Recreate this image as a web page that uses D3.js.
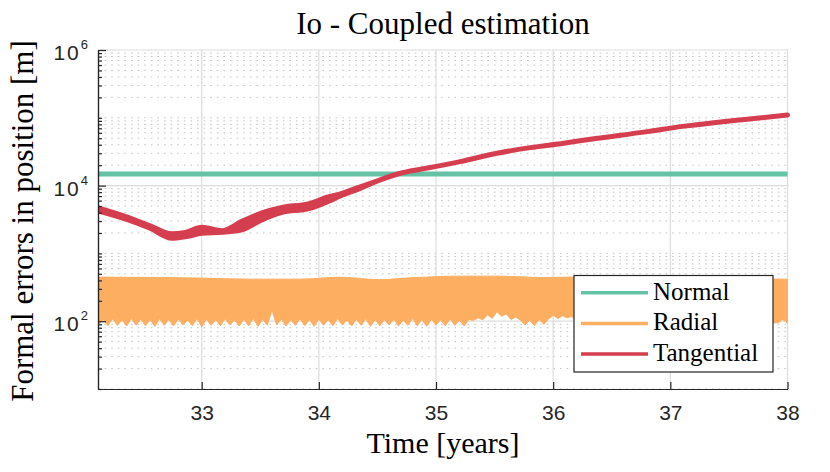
<!DOCTYPE html>
<html>
<head>
<meta charset="utf-8">
<script src="https://cdn.jsdelivr.net/npm/d3@7"></script>
<style>
  body { margin: 0; background: #fff; }
  .ticklabel { font-family: 'Liberation Sans', Arial, sans-serif; fill: #262626; }
  .latex { font-family: 'Liberation Serif', 'Times New Roman', serif; fill: #000; }
</style>
</head>
<body>
<div id="graphic"></div>
<script>
const width = 830;
const height = 472;

// tick values
const xTicks = [33, 34, 35, 36, 37, 38];
const yTicks = [1e2, 1e4, 1e6];
const yTickExp = ['2', '4', '6'];

// Normal component - flat
const normalYears = [32.115, 38.0];
const normalErr = [14800, 14800];

// Tangential - upper / lower envelope of the oscillating curve
const tanYears = [32.116, 32.372, 32.560, 32.746, 32.859, 33.002, 33.172, 33.343, 33.514, 33.685,
                  33.909, 34.080, 34.183, 34.353, 34.524, 34.695, 34.866, 35.037, 35.207, 35.521,
                  35.805, 36.090, 36.318, 36.802, 37.086, 37.371, 37.656, 38.000];
const tanHigh = [4692, 3399, 2547, 1941, 2042, 2421, 2163, 2968, 3960, 4775,
                 5373, 6816, 7547, 9600, 12130, 15230, 17450, 19710, 22580, 30030,
                 36310, 42170, 48300, 62500, 74070, 84800, 95200, 110200];
const tanLow = [4237, 3123, 2345, 1667, 1754, 1975, 2042, 2224, 3123, 4027,
                4536, 5848, 7047, 9100, 12130, 15230, 17450, 19710, 22580, 30030,
                36310, 42170, 48300, 62500, 74070, 84800, 95200, 110200];

// Radial - upper edge
const radTopYears = [32.115, 33.0, 33.41, 33.84, 34.18, 34.52, 34.78, 35.21, 35.55, 35.89, 36.15, 36.8, 37.4, 38.0];
const radTop = [447, 432, 417, 417, 445, 410, 436, 462, 462, 440, 447, 430, 425, 417];

// Radial - lower (jagged) edge, one value every radStep years from radStart
const radStart = 32.12;
const radStep = 0.04;
const radBottom = [
  88,106,86,109,87,104,85,110,88,107, 86,105,84,109,87,106,85,108,88,104,
  86,110,83,107,87,105,86,109,88,104, 85,107,86,110,84,106,87,146,88,108,
  85,104,87,109,86,106,84,108,87,105, 86,110,88,104,85,107,87,109,84,106,
  86,105,88,108,85,104,87,110,86,106, 84,107,88,105,86,109,87,104,85,106,
  103,112,105,124,110,139,118,128,106,115,104,
  88,104,86,106,90,
  108,122,110,120,112,118,
  96,112,94,110,97,114,95,111,98,113, 96,110,94,112,97,115,95,111,98,113,
  96,110,94,112,97,114,95,111,98,113, 96,110,94,112,97,115,95,111,98,113,
  96,110,94,
  95,106,93
];

const legendNames = ['Normal', 'Radial', 'Tangential'];
const colors = ['#66c2a5', '#fdae61', '#d53e4f'];

const svg = d3.select('#graphic')
    .append('svg')
    .attr('width', width)
    .attr('height', height);

const pLeft = 98, pRight = 787.5, pTop = 50, pBottom = 389;

const scaleX = d3.scaleLinear()
    .domain([32.115, 38])
    .range([pLeft, pRight]);

const scaleY = d3.scaleLog()
    .domain([10, 1e6])
    .range([pBottom, pTop]);

const minorY = scaleY.ticks().filter(v => !yTicks.includes(v));

// grid
const grid = svg.append('g');
grid.selectAll('.minor')
    .data(minorY)
    .enter()
    .append('line')
    .attr('x1', pLeft).attr('x2', pRight + 1)
    .attr('y1', d => scaleY(d)).attr('y2', d => scaleY(d))
    .attr('stroke', '#c4c4c4')
    .attr('stroke-width', 1)
    .attr('stroke-dasharray', '1.6,5');

grid.selectAll('.major')
    .data(yTicks)
    .enter()
    .append('line')
    .attr('x1', pLeft).attr('x2', pRight + 1)
    .attr('y1', d => scaleY(d)).attr('y2', d => scaleY(d))
    .attr('stroke', '#dcdcdc')
    .attr('stroke-width', 1.2);

grid.selectAll('.vgrid')
    .data(xTicks)
    .enter()
    .append('line')
    .attr('x1', d => scaleX(d)).attr('x2', d => scaleX(d))
    .attr('y1', pTop).attr('y2', pBottom)
    .attr('stroke', '#dcdcdc')
    .attr('stroke-width', 1.2);

// clip to the axes box
svg.append('clipPath').attr('id', 'plotclip')
    .append('rect')
    .attr('x', pLeft).attr('y', pTop - 5)
    .attr('width', pRight - pLeft + 3).attr('height', pBottom - pTop + 5);

const plot = svg.append('g').attr('clip-path', 'url(#plotclip)');

// Normal
const normalLine = d3.line()
    .x((d, i) => scaleX(normalYears[i]))
    .y(d => scaleY(d));

plot.append('path')
    .attr('d', normalLine(normalErr))
    .attr('fill', 'none')
    .attr('stroke', colors[0])
    .attr('stroke-width', 5);

// Radial
const topPts = radTop.map((v, i) => [scaleX(radTopYears[i]), scaleY(v)]);
const botPts = radBottom.map((v, i) => [scaleX(radStart + i * radStep), scaleY(v)]).reverse();
const topPath = d3.line().curve(d3.curveMonotoneX)(topPts);
const botPath = d3.line()(botPts);

plot.append('path')
    .attr('d', topPath + botPath.replace(/^M/, 'L') + 'Z')
    .attr('fill', colors[1])
    .attr('stroke', colors[1])
    .attr('stroke-width', 1);

// Tangential
const tanArea = d3.area()
    .x((d, i) => scaleX(tanYears[i]))
    .y0((d, i) => scaleY(tanLow[i]))
    .y1((d, i) => scaleY(tanHigh[i]))
    .curve(d3.curveMonotoneX);

plot.append('path')
    .attr('d', tanArea(tanYears))
    .attr('fill', colors[2])
    .attr('stroke', colors[2])
    .attr('stroke-width', 5)
    .attr('stroke-linejoin', 'round');

// Axes
const axisX = d3.axisBottom(scaleX)
    .tickValues(xTicks)
    .tickSizeInner(-7)
    .tickSizeOuter(0)
    .tickPadding(16)
    .tickFormat(d3.format('d'));

const gx = svg.append('g')
    .attr('transform', `translate(0, ${pBottom})`)
    .call(axisX);
gx.selectAll('text')
    .attr('class', 'ticklabel')
    .style('font-size', '21px');

const axisYMinor = d3.axisLeft(scaleY)
    .tickValues(minorY)
    .tickSizeInner(-4)
    .tickSizeOuter(0)
    .tickFormat('');

svg.append('g')
    .attr('transform', `translate(${pLeft}, 0)`)
    .call(axisYMinor);

const axisY = d3.axisLeft(scaleY)
    .tickValues(yTicks)
    .tickSizeInner(-8)
    .tickSizeOuter(0)
    .tickFormat('');

svg.append('g')
    .attr('transform', `translate(${pLeft}, 0)`)
    .call(axisY);

svg.selectAll('.domain, .tick line')
    .attr('stroke', '#262626')
    .attr('stroke-width', 1.2);

// y tick labels 10^k
const yLab = svg.append('g').selectAll('text')
    .data(yTicks)
    .enter()
    .append('text')
    .attr('class', 'ticklabel')
    .attr('text-anchor', 'end')
    .attr('x', 88)
    .attr('y', d => scaleY(d) + 10);
yLab.append('tspan')
    .style('font-size', '21px')
    .style('letter-spacing', '2px')
    .text('10');
yLab.append('tspan')
    .style('font-size', '13px')
    .attr('dy', -11)
    .text((d, i) => yTickExp[i]);

// titles
svg.append('text')
    .attr('class', 'latex')
    .attr('x', 443).attr('y', 34)
    .attr('text-anchor', 'middle')
    .style('font-size', '31px')
    .text('Io - Coupled estimation');

svg.append('text')
    .attr('class', 'latex')
    .attr('x', 443).attr('y', 453)
    .attr('text-anchor', 'middle')
    .style('font-size', '30px')
    .text('Time [years]');

svg.append('text')
    .attr('class', 'latex')
    .attr('transform', 'translate(33, 221) rotate(-90)')
    .attr('text-anchor', 'middle')
    .style('font-size', '31px')
    .text('Formal errors in position [m]');

// legend
const legend = svg.append('g');
legend.append('rect')
    .attr('x', 574).attr('y', 275.5)
    .attr('width', 199).attr('height', 96.5)
    .attr('fill', '#fff')
    .attr('stroke', '#262626')
    .attr('stroke-width', 1.2);

const item = legend.selectAll('.item')
    .data(legendNames)
    .enter()
    .append('g')
    .attr('transform', (d, i) => `translate(0, ${292.7 + i * 30.7})`);

item.append('line')
    .attr('x1', 581).attr('x2', 648)
    .attr('stroke', (d, i) => colors[i])
    .attr('stroke-width', 3.5);

item.append('text')
    .attr('class', 'latex')
    .attr('x', 653).attr('y', 7)
    .style('font-size', '25px')
    .text(d => d);
</script>
</body>
</html>
